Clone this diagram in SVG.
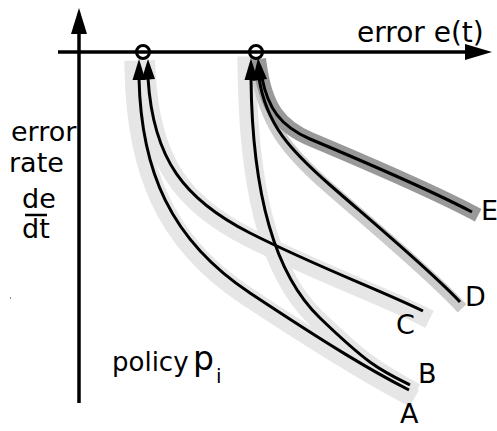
<svg xmlns="http://www.w3.org/2000/svg" width="497" height="431" viewBox="0 0 497 431">
<style>
text{font-family:"DejaVu Sans","Liberation Sans",sans-serif;fill:#000}
.ln{fill:none;stroke:#000;stroke-width:3;stroke-linecap:butt}
.hl{fill:none;stroke:#e6e6e6;stroke-width:19;stroke-linejoin:round;stroke-linecap:square}
.hd{fill:none;stroke:#cbcbcb;stroke-width:12;stroke-linejoin:round;stroke-linecap:square}
.he{fill:none;stroke:#999;stroke-width:14;stroke-linejoin:round;stroke-linecap:square}
.ah{fill:#000}
.lab{font-size:27px}
</style>
<rect width="497" height="431" fill="#fff"/>
<g id="halos">
<path class="hl" d="M134,70 C136,170 165,242 245,295 S365,372 406,394"/>
<path class="hl" d="M247,66 C248,180 266,270 316,318 S376,370 407,388"/>
<path class="hl" d="M146,70 C150,162 183,204 248,237 S378,294 421,315"/>
<path class="hd" d="M256,68 C264,124 288,152 328,187 S428,272 458,304"/>
<path class="he" d="M260,66 C266,108 280,126 310,139 C360,160 430,190 472,212"/>
</g>
<g id="axes">
<line x1="79" y1="30" x2="79" y2="403" stroke="#000" stroke-width="3.5"/>
<polygon class="ah" points="79,8 71,34 87,34"/>
<line x1="58" y1="52" x2="468" y2="52" stroke="#000" stroke-width="3.5"/>
<polygon class="ah" points="492,52 465,44 465,60"/>
</g>
<g id="node-p1">
<circle cx="143" cy="52" r="6.5" fill="none" stroke="#000" stroke-width="3"/>
</g>
<g id="node-p2">
<circle cx="256" cy="52" r="6.5" fill="none" stroke="#000" stroke-width="3"/>
</g>
<g id="connectors">
<path id="curve-A" class="ln" d="M139,78 C141,170 170,240 250,293 S370,370 409,390"/>
<path id="curve-B" class="ln" d="M251,78 C252,180 270,270 320,318 S380,370 410,385"/>
<path id="curve-C" class="ln" d="M148,78 C153,160 185,200 250,233 S380,290 423,311"/>
<path id="curve-D" class="ln" d="M259,78 C266,124 290,150 330,185 S430,270 460,302"/>
<path id="curve-E" class="ln" d="M262,78 C268,108 280,126 310,139 C360,160 430,190 472,212"/>
<polygon class="ah" points="139,59 132.5,80 145.5,80"/>
<polygon class="ah" points="148,59 141.5,80 155,79"/>
<polygon class="ah" points="251,58 244.5,80 257.5,80"/>
<polygon class="ah" points="258,58 252.5,81 267,79"/>
</g>
<g id="labels">
<text x="357" y="42" font-size="28">error e(t)</text>
<text x="11" y="141" font-size="27">error</text>
<text x="9" y="172" font-size="27">rate</text>
<text x="22" y="208" font-size="27">de</text>
<line x1="25" y1="215" x2="47" y2="215" stroke="#000" stroke-width="2.5"/>
<text x="22" y="238" font-size="27">dt</text>
<rect x="10" y="297" width="1" height="2" fill="#888"/>
<text x="112" y="371" font-size="26">policy</text>
<text x="193" y="370" font-size="33">p</text>
<text x="216" y="383" font-size="20">i</text>
<text class="lab" x="400" y="423">A</text>
<text class="lab" x="418" y="383">B</text>
<text class="lab" x="396" y="334">C</text>
<text class="lab" x="465" y="306">D</text>
<text class="lab" x="481" y="220">E</text>
</g>
</svg>
